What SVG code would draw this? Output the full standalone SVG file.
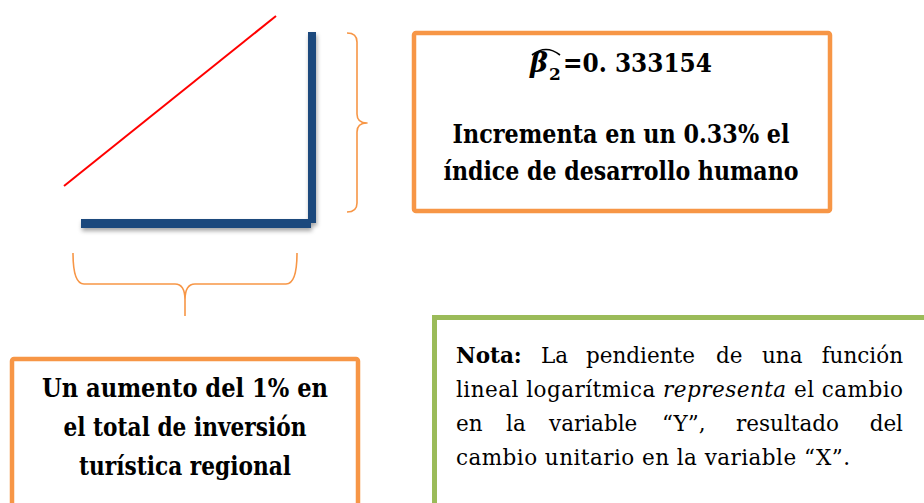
<svg xmlns="http://www.w3.org/2000/svg" width="924" height="503" viewBox="0 0 924 503">
<defs>
<style>
.box{fill:#fff;stroke:#F79646;stroke-width:4.5}
.gbox{fill:#fff;stroke:#9BBB59;stroke-width:5}
.bold{font-family:'DejaVu Serif',serif;font-weight:bold;font-size:26px;fill:#000;text-anchor:middle}
.note{font-family:'DejaVu Serif',serif;font-size:21.5px;fill:#000}
.brace{fill:none;stroke:#F79646;stroke-width:1.6;stroke-linejoin:round}
.math{font-family:'DejaVu Serif',serif;font-weight:bold;fill:#000}
</style>
<filter id="sh" x="-10%" y="-10%" width="130%" height="140%">
<feDropShadow dx="1" dy="3" stdDeviation="2" flood-color="#000" flood-opacity="0.35"/>
</filter>
</defs>
<rect width="924" height="503" fill="#fff"/>

<g id="graph">
<line x1="64" y1="186" x2="276" y2="16" stroke="#FF0000" stroke-width="2"/>
<g filter="url(#sh)" fill="#1F497D">
<rect x="308" y="32" width="8" height="191"/>
<rect x="81" y="219" width="230" height="9"/>
</g>
</g>

<g id="connectors">
<path class="brace" d="M347,33 Q357,33 357,42 L357,114 Q357,123 367,123 Q357,123 357,132 L357,203 Q357,212 347,212"/>
<path class="brace" d="M73,253 Q73,284 84,284 L175,284 Q185,284 185,300 L185,316 M297,253 Q297,284 286,284 L195,284 Q185,284 185,300"/>
</g>

<g id="beta-box">
<rect class="box" x="414" y="33" width="416" height="178" rx="2"/>
<text class="math" x="530" y="72" font-size="27" font-style="italic">β</text>
<text class="math" x="549" y="80" font-size="17">2</text>
<path d="M532,55 Q546,44 560,55" fill="none" stroke="#000" stroke-width="1.6"/>
<text class="math" x="563" y="72" font-size="26" textLength="149" lengthAdjust="spacingAndGlyphs">=0. 333154</text>
<text class="bold" x="621" y="143" textLength="337" lengthAdjust="spacingAndGlyphs">Incrementa en un 0.33% el</text>
<text class="bold" x="621" y="180" textLength="355" lengthAdjust="spacingAndGlyphs">índice de desarrollo humano</text>
</g>

<g id="x-box">
<rect class="box" x="12" y="359" width="346" height="160" rx="2"/>
<text class="bold" x="185" y="397" textLength="286" lengthAdjust="spacingAndGlyphs">Un aumento del 1% en</text>
<text class="bold" x="185" y="436" textLength="243" lengthAdjust="spacingAndGlyphs">el total de inversión</text>
<text class="bold" x="185" y="475" textLength="212" lengthAdjust="spacingAndGlyphs">turística regional</text>
</g>

<g id="note-box">
<rect class="gbox" x="434.5" y="317.5" width="520" height="200"/>
<text class="note" y="363"><tspan x="456" font-weight="bold">Nota:</tspan> <tspan x="541">La</tspan> <tspan x="586">pendiente</tspan> <tspan x="716">de</tspan> <tspan x="762">una</tspan> <tspan x="903" text-anchor="end">función</tspan></text>
<text class="note" x="456" y="397" textLength="447" lengthAdjust="spacing">lineal logarítmica <tspan font-style="italic">representa</tspan> el cambio</text>
<text class="note" y="431"><tspan x="456">en</tspan> <tspan x="506">la</tspan> <tspan x="549">variable</tspan> <tspan x="662">“Y”,</tspan> <tspan x="736">resultado</tspan> <tspan x="903" text-anchor="end">del</tspan></text>
<text class="note" x="456" y="465" textLength="394" lengthAdjust="spacing">cambio unitario en la variable “X”.</text>
</g>
</svg>
